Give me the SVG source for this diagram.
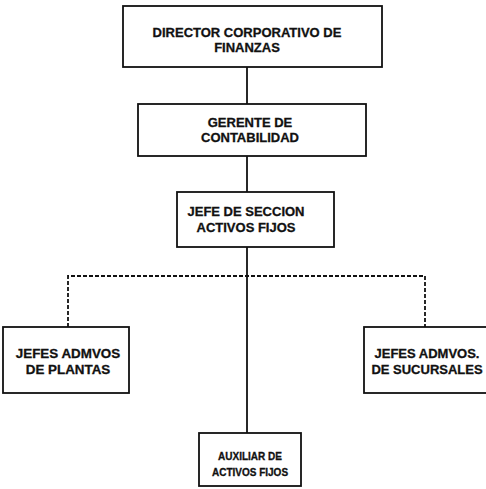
<svg xmlns="http://www.w3.org/2000/svg" width="486" height="489" viewBox="0 0 486 489">
<style>
.box{fill:#fff;stroke:#111;stroke-width:1.8}
.t{font-family:"Liberation Sans",Arial,sans-serif;font-weight:bold;font-size:13px;fill:#111;stroke:#111;stroke-width:0.3;text-anchor:middle}
.s{font-size:10px}
.m{font-size:13.4px}
.line{stroke:#111;stroke-width:1.8;fill:none}
.dash{stroke:#111;stroke-width:1.8;fill:none;stroke-dasharray:4 2}
</style>
<rect width="486" height="489" fill="#fff"/>
<g id="connectors">
<line class="line" x1="247" y1="67" x2="247" y2="104"/>
<line class="line" x1="247" y1="156" x2="247" y2="192"/>
<line class="line" x1="247" y1="247" x2="247" y2="433"/>
<path class="dash" d="M68 327 V276 H425 V327"/>
</g>
<g id="n1">
<rect class="box" x="123" y="6" width="259" height="61"/>
<text class="t" x="247" y="37">DIRECTOR CORPORATIVO DE</text>
<text class="t" x="247" y="52">FINANZAS</text>
</g>
<g id="n2">
<rect class="box" x="138" y="104" width="228" height="52"/>
<text class="t" x="250" y="127">GERENTE DE</text>
<text class="t" x="250" y="142">CONTABILIDAD</text>
</g>
<g id="n3">
<rect class="box" x="177" y="192" width="157" height="55"/>
<text class="t" x="246" y="216">JEFE DE SECCION</text>
<text class="t" x="246" y="232">ACTIVOS FIJOS</text>
</g>
<g id="n4">
<rect class="box" x="3" y="327" width="126" height="66"/>
<text class="t m" x="68" y="358">JEFES ADMVOS</text>
<text class="t m" x="68" y="374">DE PLANTAS</text>
</g>
<g id="n5">
<rect class="box" x="364" y="327" width="130" height="66"/>
<text class="t" x="427" y="358">JEFES ADMVOS.</text>
<text class="t" x="427" y="374">DE SUCURSALES</text>
</g>
<g id="n6">
<rect class="box" x="199" y="433" width="102" height="53"/>
<text class="t s" x="250" y="460">AUXILIAR DE</text>
<text class="t s" x="250" y="476">ACTIVOS FIJOS</text>
</g>
</svg>
